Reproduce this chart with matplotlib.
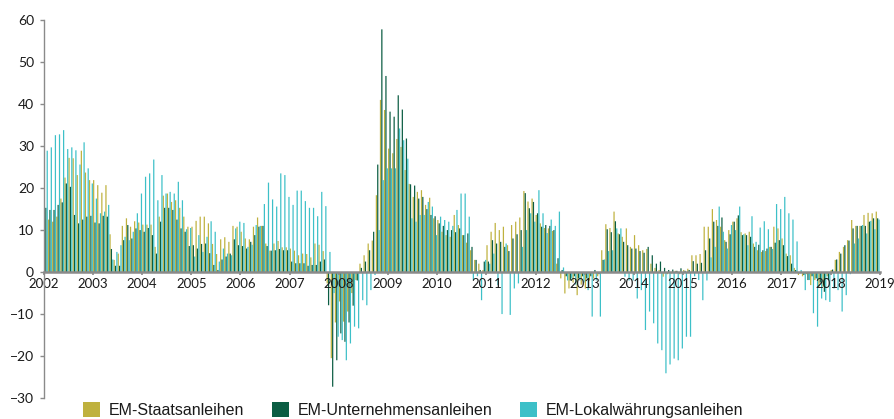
import matplotlib
matplotlib.use("Agg")
import matplotlib.pyplot as plt
from matplotlib.patches import Patch
import numpy as np

years = list(range(2002, 2019))
series_names = ["EM-Staatsanleihen", "EM-Unternehmensanleihen", "EM-Lokalwährungsanleihen"]
colors = ["#BFB13E", "#0B5D43", "#3DC0C8"]

# monthly values, one row per year (Jan..Dec), 2002..2018
staats = [
    12.8, 12.5, 12.0, 13.2, 17.5, 22.5, 27.2, 27.1, 23.1, 28.9, 23.7, 21.9,   # 2002
    21.9, 20.7, 18.9, 20.7, 9.0, 2.9, 4.4, 11.0, 12.8, 10.8, 12.1, 11.8,     # 2003
    11.3, 11.3, 11.3, 6.0, 13.2, 18.2, 18.7, 16.7, 17.1, 15.3, 13.2, 10.8,   # 2004
    10.8, 12.2, 13.2, 13.2, 11.6, 6.7, 4.3, 7.8, 8.3, 7.2, 11.0, 10.8,       # 2005
    9.6, 8.0, 7.8, 10.8, 13.0, 11.0, 6.8, 5.1, 6.8, 7.4, 5.9, 5.9,           # 2006
    5.6, 5.1, 4.0, 4.4, 4.3, 3.5, 6.8, 6.5, 5.0, -2.7, -20.5, -12.0,         # 2007
    -7.0, -11.8, -9.4, -5.0, -1.9, 2.0, 4.0, 6.8, 7.5, 18.3, 41.0, 38.6,     # 2008
    29.4, 28.3, 31.7, 29.8, 24.3, 21.0, 17.9, 19.1, 19.5, 16.0, 17.7, 12.8,  # 2009
    12.4, 9.6, 8.8, 8.4, 13.6, 11.2, 8.8, 7.0, 5.2, 2.9, 2.0, 0.5,           # 2010
    6.4, 9.6, 11.7, 10.0, 10.8, 6.4, 11.2, 12.0, 13.0, 19.3, 16.8, 17.5,     # 2011
    13.6, 11.6, 10.5, 10.4, 9.8, 2.0, -1.5, -5.1, -3.9, -2.5, -5.5, -3.0,    # 2012
    -3.9, -2.0, -1.5, -1.0, 5.2, 11.4, 10.5, 14.4, 9.2, 8.4, 10.4, 6.0,      # 2013
    8.8, 6.4, 5.2, 5.5, 2.0, 1.0, 0.5, -1.1, -0.5, -0.3, 0.3, -0.5,          # 2014
    0.5, 0.8, 4.0, 4.0, 4.3, 10.8, 10.8, 15.0, 12.4, 10.8, 7.6, 10.0,        # 2015
    12.0, 12.8, 9.5, 9.2, 9.6, 6.8, 5.2, 4.8, 5.0, 6.0, 10.8, 10.4,          # 2016
    8.0, 4.4, 4.0, 1.0, -0.7, -1.0, -0.5, -3.1, -1.9, -3.5, -3.5, -1.0,      # 2017
    0.5, 2.9, 4.8, 6.0, 7.6, 12.4, 11.0, 11.0, 13.6, 14.1, 14.0, 14.4,       # 2018
]
unternehmen = [
    15.3, 14.8, 14.8, 16.0, 16.6, 21.1, 20.3, 13.6, 11.6, 12.5, 13.2, 13.4,  # 2002
    11.8, 11.6, 13.4, 13.2, 5.5, 1.5, 1.5, 7.6, 11.2, 8.0, 10.4, 10.0,       # 2003
    9.6, 10.5, 8.8, 4.4, 12.0, 15.3, 15.3, 14.8, 12.5, 10.4, 9.6, 6.2,       # 2004
    6.4, 5.6, 6.7, 6.8, 4.5, 1.7, 0.5, 3.0, 3.7, 4.4, 7.8, 6.4,              # 2005
    6.2, 5.6, 7.2, 8.8, 10.8, 11.0, 6.2, 5.1, 5.2, 5.5, 5.2, 5.2,            # 2006
    2.5, 2.1, 2.1, 2.1, 1.5, 1.7, 1.7, 2.5, 3.0, -7.9, -27.3, -21.0,         # 2007
    -14.6, -16.6, -12.0, -8.0, -2.0, 1.0, 2.5, 5.2, 9.6, 25.6, 57.8, 46.7,   # 2008
    38.2, 37.0, 42.1, 38.7, 31.8, 20.9, 20.6, 17.5, 17.9, 15.0, 13.6, 13.3,  # 2009
    11.6, 11.0, 10.0, 10.0, 9.5, 10.4, 8.8, 9.2, 6.0, 2.9, 0.5, 2.5,         # 2010
    2.5, 7.6, 6.8, 7.2, 6.0, 5.0, 8.0, 9.0, 10.0, 18.8, 15.2, 16.7,          # 2011
    14.0, 10.8, 11.2, 11.0, 10.0, 3.3, 0.5, -1.0, -2.0, -1.0, -1.5, -1.0,    # 2012
    -1.5, -1.0, 0.5, -0.5, 2.9, 10.2, 9.5, 12.1, 9.0, 7.2, 6.4, 5.6,         # 2013
    5.6, 5.0, 4.6, 6.0, 4.0, 2.0, 2.5, 1.0, 0.5, 0.6, 0.3, 0.9,              # 2014
    0.3, 0.5, 2.6, 2.0, 2.2, 5.2, 8.0, 12.0, 11.0, 13.0, 7.2, 9.0,           # 2015
    12.0, 13.5, 8.8, 8.8, 8.4, 6.0, 6.5, 5.2, 5.6, 6.0, 7.0, 7.6,            # 2016
    6.4, 3.8, 2.0, 0.5, -0.3, -0.7, -1.9, -1.0, -1.5, -2.5, -4.7, -1.9,      # 2017
    0.6, 3.0, 4.4, 6.4, 7.5, 10.4, 11.0, 11.0, 11.0, 12.0, 12.8, 12.8,       # 2018
]
lokal = [
    28.9, 29.7, 32.6, 32.8, 33.8, 29.3, 29.7, 29.0, 25.6, 30.9, 24.7, 21.1,  # 2002
    17.5, 14.0, 14.4, 16.0, 3.0, 4.8, 6.4, 8.4, 7.6, 9.6, 14.0, 18.7,        # 2003
    22.7, 23.5, 26.8, 17.1, 23.1, 18.7, 19.1, 18.7, 21.5, 17.1, 10.2, 10.5,  # 2004
    3.7, 8.8, 4.8, 8.4, 12.1, 9.6, 2.5, 5.6, 4.4, 4.0, 10.4, 12.0,           # 2005
    11.7, 6.0, 6.5, 11.2, 11.0, 16.2, 21.3, 17.3, 15.6, 23.5, 23.1, 17.9,    # 2006
    16.0, 19.4, 19.4, 16.9, 15.3, 15.3, 13.3, 19.1, 15.7, 4.8, -5.0, -15.4,  # 2007
    -16.2, -21.0, -17.0, -13.0, -13.4, -6.7, -7.9, -4.3, -0.7, 10.0, 21.9, 24.7,  # 2008
    24.7, 24.7, 34.2, 31.4, 27.0, 12.8, 12.0, 13.6, 13.6, 16.7, 15.6, 8.8,   # 2009
    13.2, 12.4, 12.0, 11.0, 14.8, 18.7, 18.7, 13.2, -1.9, -1.0, -6.7, 2.9,   # 2010
    2.0, 4.4, -3.1, -10.0, 6.8, -10.2, -3.9, -2.7, 6.0, 10.0, 14.0, 12.0,    # 2011
    19.5, 14.0, 9.3, 12.5, 11.0, 14.4, 1.1, -2.0, -1.5, -3.0, -2.0, -2.5,    # 2012
    -4.3, -10.6, -2.0, -10.6, 3.0, 5.0, 5.2, 10.4, 10.4, -1.1, -2.0, -2.0,   # 2013
    -6.3, -4.3, -13.8, -9.4, -12.2, -17.0, -18.6, -24.1, -22.0, -20.6, -21.0, -18.2,  # 2014
    -15.4, -15.4, -1.0, -1.9, -6.7, -2.0, 3.5, 6.0, 15.6, 9.6, 5.6, 11.2,    # 2015
    10.0, 15.6, 9.0, 6.4, 13.3, 7.2, 10.6, 12.1, 10.2, 5.5, 16.2, 15.0,      # 2016
    17.9, 14.0, 12.5, 7.3, 0.5, -4.3, -1.9, -9.8, -13.0, -6.3, -6.7, -7.1,   # 2017
    -3.9, -4.3, -9.4, -5.5, -0.5, 6.8, 8.0, 11.2, 9.2, 12.2, 10.2, 12.5,     # 2018
]
year_ticks = list(range(2002, 2020))
y_ticks = list(range(-30, 61, 10))

plt.rcParams['font.family'] = ['Lato', 'DejaVu Sans']

fig = plt.figure(figsize=(8.94, 4.19), dpi=100)
ax = fig.add_axes([0.049, 0.050, 0.935, 0.902])

n = len(staats)
months = np.arange(n)
bw = 1.0 / 36.0
for i, (vals, c) in enumerate(zip([staats, unternehmen, lokal], colors)):
    x = years[0] + months / 12.0 + (i + 0.5) * bw
    ax.bar(x, vals, width=bw * 0.9, color=c, edgecolor="none", linewidth=0,
           snap=False, antialiased=True)

ax.set_xlim(2002, 2019)
ax.set_ylim(-30, 60)
ax.set_yticks(y_ticks)
ax.set_xticks(year_ticks)
ax.set_xticklabels([str(y) for y in year_ticks])

for s in ["top", "right"]:
    ax.spines[s].set_visible(False)
ax.spines["bottom"].set_position(("data", 0))
ax.spines["bottom"].set_color("#8a8a8a")
ax.spines["bottom"].set_linewidth(1.8)
ax.spines["bottom"].set_zorder(5)
ax.spines["left"].set_color("#8a8a8a")
ax.spines["left"].set_linewidth(1.0)

ax.tick_params(axis="y", direction="out", length=3, width=1, color="#8a8a8a",
               labelsize=10, labelcolor="#1a1a1a", pad=4)
ax.tick_params(axis="x", direction="out", length=2, width=1.2, color="#8a8a8a",
               labelsize=9.5, labelcolor="#1a1a1a", pad=2)

handles = [Patch(facecolor=c, edgecolor="none", label=l) for c, l in zip(colors, series_names)]
fig.legend(handles=handles, loc="center", bbox_to_anchor=(0.462, 0.022), ncol=3,
           frameon=False, prop={"family": "Liberation Sans", "size": 11.5},
           handlelength=1.05, handleheight=1.05, handletextpad=0.55,
           columnspacing=1.75, labelcolor="#1a1a1a")

fig.savefig("out.png", dpi=100)
